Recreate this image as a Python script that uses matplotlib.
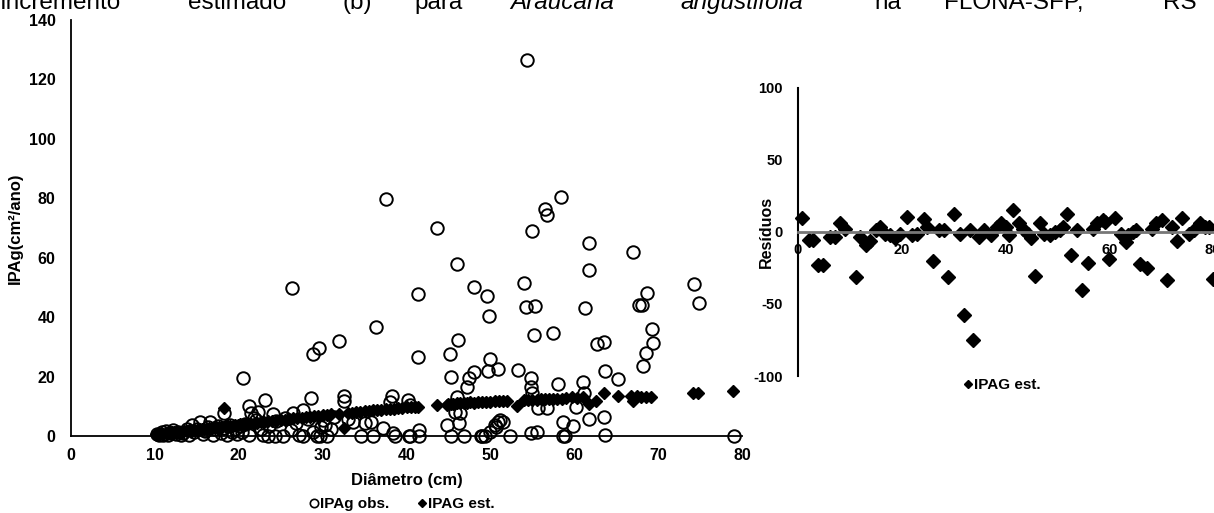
import matplotlib
matplotlib.use("Agg")
import matplotlib.pyplot as plt
from matplotlib.lines import Line2D

plt.rcParams['font.family'] = ['Liberation Sans', 'DejaVu Sans']
plt.rcParams['axes.unicode_minus'] = False

# Observed IPAg (diameter, cm2/ano)
obs_d = [54.4, 37.5, 58.4, 56.5, 56.8, 43.6, 55.0, 61.7, 67.0, 46.0, 61.7, 54.0, 74.3, 26.4,
         48.0, 49.6, 41.4, 68.7, 54.3, 55.3, 61.3, 67.7, 68.1, 74.9, 49.8, 36.4, 55.2, 57.5,
         69.3, 46.1, 31.9, 62.7, 63.6, 69.4, 29.6, 28.9, 68.5, 45.2, 41.4, 68.2, 49.9, 50.9,
         49.7, 48.1, 47.5, 47.2, 46.0, 45.3, 53.3, 54.9, 54.9, 55.0, 58.1, 61.1, 63.7, 65.2,
         61.2, 20.5, 23.1, 28.6, 32.5, 32.5, 38.3, 38.0, 40.2, 40.4, 21.2, 21.5, 21.8, 22.3,
         18.3, 24.1, 26.5, 27.7, 30.1, 30.3, 14.4, 15.4, 16.6, 55.7, 56.8, 60.2, 58.7, 59.9,
         61.7, 63.6, 44.8, 46.2, 46.4, 45.8, 50.9, 51.5, 50.7, 41.5, 49.9, 54.9, 55.5, 63.7,
         33.6, 35.0, 35.8, 37.2, 38.4, 50.5, 51.1,
         40.3, 41.5, 45.3, 46.8, 48.9, 49.3, 52.3, 58.7, 58.9, 79.0, 34.6, 36.0, 38.6, 40.4,
         23.5, 24.3, 25.3, 27.7, 29.7, 30.5, 49.0,
         10.2, 10.5, 10.8, 11.0, 11.3, 11.6, 11.9, 12.2, 12.5, 12.8, 13.1, 13.4, 13.8, 14.1,
         14.7, 15.0, 15.7, 16.0, 16.3, 16.9, 17.2, 17.5, 17.9, 18.2, 18.6, 18.9, 19.2, 19.5,
         19.8, 20.1, 20.4, 20.8, 21.2, 22.0, 22.6, 22.9, 23.6, 24.5, 25.5, 26.2, 26.8, 27.2,
         28.3, 28.8, 29.3, 29.8, 31.0, 31.3, 33.0]
obs_v = [126.6, 79.7, 80.6, 76.5, 74.3, 70.1, 69.0, 65.1, 61.8, 57.8, 55.7, 51.4, 51.2, 49.7,
         50.3, 47.1, 47.8, 48.0, 43.4, 43.7, 43.0, 44.2, 44.2, 44.9, 40.3, 36.6, 33.9, 34.6,
         35.9, 32.3, 32.0, 31.1, 31.7, 31.2, 29.5, 27.6, 28.0, 27.6, 26.5, 23.6, 25.8, 22.7,
         22.0, 21.5, 19.4, 16.4, 13.2, 20.0, 22.2, 19.4, 16.4, 14.4, 17.5, 18.2, 22.0, 19.2,
         14.4, 19.4, 12.0, 12.7, 13.5, 11.8, 13.5, 11.5, 12.1, 10.4, 10.0, 7.8, 6.2, 8.0,
         7.8, 7.3, 7.8, 8.8, 5.4, 3.7, 3.7, 4.6, 4.8, 9.3, 9.3, 9.9, 4.8, 3.4,
         5.6, 6.5, 3.6, 4.5, 7.6, 8.2, 4.7, 4.8, 3.1, 2.0, 1.3, 1.0, 1.2, 0.5,
         4.8, 4.5, 4.8, 2.6, 0.9, 3.7, 5.4,
         0.0, 0.0, 0.0, 0.0, 0.0, 0.0, 0.0, 0.0, 0.0, 0.0, 0.0, 0.0, 0.0, 0.0,
         0.0, 0.0, 0.0, 0.0, 0.0, 0.0, 0.0,
         0.8, 0.2, 1.2, 0.5, 1.8, 0.3, 1.0, 2.0, 0.6, 1.5, 0.2, 1.0, 2.2, 0.5,
         1.2, 2.5, 0.8, 1.8, 3.0, 0.4, 2.2, 3.3, 1.0, 2.8, 0.3, 3.8, 1.5, 2.5,
         0.6, 3.2, 1.2, 4.2, 0.2, 5.5, 2.5, 0.2, 3.5, 5.0, 6.0, 2.0, 4.5, 0.2,
         5.6, 1.5, 0.1, 3.0, 2.5, 6.5, 5.8]

# Estimated IPAG
est_d = [10.1, 10.4, 10.7, 11.0, 11.3, 11.5, 11.8, 12.1, 12.3, 12.6, 12.9, 13.2, 13.5, 13.8,
         14.1, 14.4, 14.7, 15.0, 15.3, 15.6, 15.9, 16.2, 16.5, 16.8, 17.1, 17.4, 17.7, 18.0,
         18.2, 18.4, 18.7, 19.0, 19.3, 19.6, 19.9, 20.2, 20.5, 20.8, 21.1, 21.4, 21.8, 22.2,
         22.6, 23.0, 23.5, 24.0, 24.5, 25.0, 25.5, 26.0, 26.5, 27.0, 27.5, 28.0, 28.5, 29.0,
         29.5, 30.0, 30.5, 31.0, 32.0, 32.5, 33.0, 33.5, 34.0, 34.5, 35.0, 35.5, 36.0, 36.5,
         37.0, 37.5, 38.0, 38.5, 39.0, 39.5, 40.0, 40.5, 41.0, 41.4, 43.6, 44.8, 45.0, 45.3,
         45.6, 46.0, 46.4, 46.8, 47.2, 47.6, 48.0, 48.5, 49.0, 49.5, 50.0, 50.5, 51.0, 51.5,
         52.0, 53.2, 54.0, 54.5, 55.0, 55.5, 56.0, 56.5, 57.0, 57.5, 58.0, 58.5, 59.0, 59.7,
         60.3, 61.0, 61.7, 62.6, 63.6, 65.2, 66.8, 67.0, 67.5, 68.0, 68.6, 69.2, 74.2, 74.8,
         78.9]
est_v = [0.6, 0.7, 0.9, 0.8, 1.1, 1.0, 1.2, 1.2, 1.4, 1.3, 1.5, 1.5, 1.7, 1.6,
         1.9, 1.8, 2.1, 2.0, 2.3, 2.2, 2.5, 2.4, 2.7, 2.6, 2.9, 2.8, 3.1, 3.0,
         9.3, 3.3, 3.2, 3.5, 3.4, 3.7, 3.6, 3.9, 3.8, 4.1, 4.0, 4.3, 4.2, 4.5,
         4.6, 4.8, 4.9, 5.1, 5.2, 5.5, 5.4, 5.8, 5.9, 6.1, 6.2, 6.4, 6.5, 6.7,
         6.8, 7.0, 7.1, 7.3, 7.5, 2.8, 7.8, 7.9, 8.1, 8.2, 8.4, 8.4, 8.7, 8.7,
         8.9, 9.0, 9.2, 9.2, 9.4, 9.4, 9.6, 9.6, 9.8, 9.8, 10.4, 10.6, 10.7, 10.8,
         10.8, 11.0, 11.0, 11.1, 11.1, 11.3, 11.2, 11.4, 11.4, 11.6, 11.5, 11.7, 11.7, 11.8,
         11.8, 10.2, 12.0, 12.1, 12.2, 12.2, 12.4, 12.3, 12.5, 12.5, 12.6, 12.6, 12.8, 13.2,
         12.8, 13.0, 10.7, 11.8, 14.4, 13.5, 13.5, 11.8, 13.6, 13.1, 13.1, 13.1, 14.4, 14.4,
         15.2]

# Residuals
res_x = [0.8, 2.1, 2.9, 3.9, 4.8, 6.1, 7.1, 8.1, 9.0, 11.1, 11.9, 13.2, 13.9, 15.0, 15.8,
         16.8, 17.7, 18.7, 19.7, 21.0, 21.9, 22.9, 24.2, 24.8, 26.1, 27.1, 28.1, 29.0, 30.0,
         31.2, 31.9, 33.1, 33.7, 34.8, 35.8, 37.1, 38.3, 39.2, 40.0, 40.7, 41.5, 42.6, 43.3,
         44.3, 44.9, 45.6, 46.6, 47.5, 48.5, 49.5, 50.5, 51.1, 51.8, 52.7, 53.8, 54.8, 55.9,
         56.9, 57.7, 58.7, 59.2, 60.0, 61.0, 62.3, 63.0, 63.3, 63.6, 64.6, 65.2, 65.9, 67.2,
         68.2, 69.0, 70.2, 71.1, 72.1, 73.1, 74.1, 75.4, 76.4, 77.4, 78.4, 79.3, 80.0]
res_v = [9.3, -5.8, -5.8, -23.0, -23.0, -3.5, -3.5, 6.2, 2.3, -31.0, -3.5, -9.3, -6.5, 1.2, 3.5,
         -1.2, -2.3, -4.6, -1.2, 10.4, -2.3, -1.2, 8.6, 3.5, -20.0, 1.2, 1.2, -31.0, 12.7,
         -1.2, -58.0, 1.6, -75.0, -3.5, 1.2, -2.3, 3.5, 6.2, 3.5, -2.3, 15.0, 6.2, 2.3,
         -1.2, -4.6, -30.5, 6.2, -1.2, -2.3, 0.0, 1.6, 3.5, 12.3, -16.0, 1.6, -40.5, -21.5,
         2.3, 5.8, 8.1, 6.9, -18.5, 9.7, -1.2, -4.6, -7.0, -2.3, 0.0, 1.2, -22.0, -24.8,
         2.3, 6.2, 8.1, -33.6, 3.5, -6.2, 9.7, -1.2, 1.2, 5.8, 3.5, 3.5, -33.0]

W, H = 1214, 513
fig = plt.figure(figsize=(W / 100, H / 100), dpi=100)

# cut-off caption line at the very top
caption = [("Incremento", 0, False), ("estimado", 188, False), ("(b)", 343, False),
           ("para", 414, False), ("Araucaria", 510, True), ("angustifolia", 680, True),
           ("na", 874, False), ("FLONA-SFP,", 944, False), ("RS", 1163, False)]
for word, px, ital in caption:
    fig.text(px / W, 1 - 9 / H, word, fontsize=17.5, va='baseline', ha='left',
             style='italic' if ital else 'normal')

# left panel
ax1 = fig.add_axes([71 / W, 1 - 436 / H, 671 / W, 416 / H])
ax1.plot(obs_d, obs_v, 'o', ms=9, mfc='none', mec='black', mew=1.4, clip_on=False)
ax1.plot(est_d, est_v, 'D', ms=6.2, color='black', mec='black', clip_on=False)
ax1.set_xlim(0, 80)
ax1.set_ylim(0, 140)
ax1.set_xticks(range(0, 81, 10))
ax1.set_yticks(range(0, 141, 20))
for s in ['top', 'right']:
    ax1.spines[s].set_visible(False)
for s in ['left', 'bottom']:
    ax1.spines[s].set_linewidth(1.3)
ax1.tick_params(length=0)
ax1.tick_params(axis='y', pad=11)
ax1.tick_params(axis='x', pad=9)
for lab in ax1.get_xticklabels() + ax1.get_yticklabels():
    lab.set_fontsize(11.5)
    lab.set_fontweight('bold')
ax1.set_xlabel("Diâmetro (cm)", fontsize=12, fontweight='bold', labelpad=7)
ax1.set_ylabel("IPAg(cm²/ano)", fontsize=12, fontweight='bold')
ax1.yaxis.set_label_coords(-0.071, 0.5)

h_obs = Line2D([], [], ls='none', marker='o', ms=6, mfc='none', mec='black', mew=1.2)
h_est = Line2D([], [], ls='none', marker='D', ms=4.5, color='black')
fig.legend([h_obs, h_est], ["IPAg obs.", "IPAG est."], loc='center',
           bbox_to_anchor=(402 / W, 1 - 504 / H), ncol=2, frameon=False,
           handlelength=0.6, handletextpad=0.1, columnspacing=1.8,
           prop=dict(size=11, weight='bold'))

# right panel (residuals)
ax2 = fig.add_axes([798 / W, 1 - 376 / H, 467 / W, 288.3 / H])
ax2.plot(res_x, res_v, 'D', ms=7, color='black', clip_on=False)
ax2.set_xlim(0, 90)
ax2.set_ylim(-100, 100)
ax2.set_xticks(range(0, 81, 20))
ax2.set_yticks([-100, -50, 0, 50, 100])
ax2.spines['top'].set_visible(False)
ax2.spines['right'].set_visible(False)
ax2.spines['bottom'].set_position(('data', 0))
ax2.spines['bottom'].set_color('#777777')
ax2.spines['bottom'].set_linewidth(2)
ax2.spines['left'].set_linewidth(1.5)
ax2.tick_params(length=0)
ax2.tick_params(axis='y', pad=11)
ax2.tick_params(axis='x', pad=8)
for lab in ax2.get_xticklabels() + ax2.get_yticklabels():
    lab.set_fontsize(10.5)
    lab.set_fontweight('bold')
ax2.set_ylabel("Resíduos", fontsize=11.5, fontweight='bold')
ax2.yaxis.set_label_coords(-0.052, 0.5)

h_res = Line2D([], [], ls='none', marker='D', ms=4.5, color='black')
fig.legend([h_res], ["IPAG est."], loc='center', bbox_to_anchor=(1002 / W, 1 - 385 / H),
           frameon=False, handlelength=0.6, handletextpad=0.1,
           prop=dict(size=11, weight='bold'))

fig.savefig("out.png", dpi=100)
